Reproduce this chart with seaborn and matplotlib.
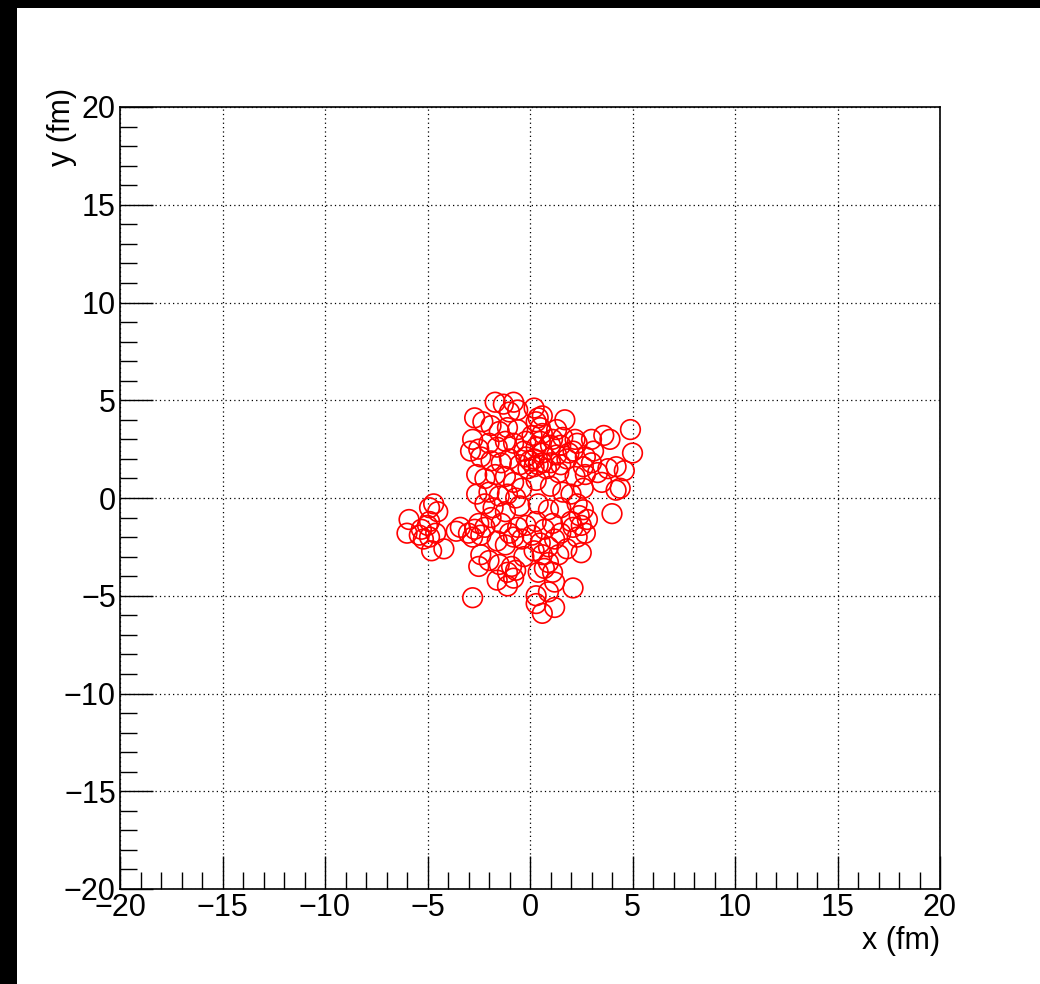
import matplotlib
matplotlib.use("Agg")
import matplotlib.pyplot as plt
import seaborn as sns
import pandas as pd
from matplotlib.patches import Rectangle
from matplotlib.ticker import MultipleLocator

x_fm = [
    -5.9, -6.0, -5.4, -5.2, -5.0, -4.9, -4.8, -4.7, -4.5, -4.9, -4.6, -4.2, -5.3, -4.9,
    -3.6, -3.4, -3.0, -2.8,
    -1.7, -1.3, -0.8, -0.6, -1.0, 0.2, 0.4, 0.6, 0.3, 1.7, -2.7, -2.3, -1.9, -1.5, -1.1, -0.6, 0.1,
    0.5, 1.3, 1.6, 2.2, 3.0, 3.6, 3.9, 4.9, -2.8, -2.5, -2.9, -2.0, -1.6, -1.2, -0.8, -0.3, 0.3, 0.6,
    1.0, 1.3, 1.8, 2.1, 2.7, 2.6, 3.0, 3.3, 3.8, 4.2, 4.6, 5.0, 4.2, 4.4, 3.5, 4.0,
    -2.4, -1.9, -1.4, -1.0, -0.5, -0.2, 0.0, 0.2, 0.4, 0.6, 0.8, 0.2, -0.1, 1.4, 2.2, 2.7,
    -2.6, -2.2, -1.7, -1.2, -0.8, -0.4, 0.3, 1.0, 1.6, 2.0, 2.6,
    -2.6, -2.0, -1.5, -1.1, -0.7, -2.2, -1.8, -1.2, -0.5, 0.4, 0.9, 1.5, 2.3, 2.6, 2.4, 2.8, 2.0,
    -2.5, -2.2, -1.9, -1.4, -1.0, -0.6, -0.2, 0.3, 0.7, 1.1, 1.5, 2.1, 2.5, 2.7,
    -2.7, -2.4, -1.6, -1.2, -0.8, -0.4, 0.1, 0.5, 0.9, 1.2, 1.8, 2.5, 2.3,
    -2.4, -2.0, -2.5, -1.5, -1.1, -0.9, -0.7, -0.3, 0.2, 0.6, 0.9, 1.1, 1.4, -1.1, -1.6,
    0.4, 0.7, 1.2, 2.1, -0.8,
    -2.8, 0.3, 0.3, 0.6, 1.2, 0.9,
    -0.2, 0.5, 0.6, 1.1, 1.5, 2.3, 3.1, 1.9, 1.0, 1.5,
]
y_fm = [
    -1.1, -1.8, -1.9, -2.1, -1.4, -1.2, -2.7, -0.3, -0.7, -0.5, -1.8, -2.6, -1.6, -2.0,
    -1.7, -1.5, -1.8, -2.0,
    4.9, 4.8, 4.9, 4.5, 4.4, 4.6, 4.1, 4.2, 3.9, 4.0, 4.1, 3.9, 3.7, 3.4, 3.6, 3.5, 3.2,
    3.6, 3.5, 3.1, 3.0, 3.0, 3.2, 3.0, 3.5, 3.0, 2.5, 2.4, 2.8, 2.6, 2.9, 2.8, 2.4, 2.6, 2.3,
    2.7, 2.2, 2.0, 2.4, 2.1, 1.6, 1.8, 1.3, 1.5, 1.6, 1.4, 2.3, 0.4, 0.5, 0.8, -0.8,
    2.1, 1.9, 1.8, 2.0, 1.7, 2.1, 1.9, 1.6, 1.7, 1.8, 1.5, 2.0, 1.5, 1.3, 1.1, 1.2,
    1.2, 1.0, 1.2, 1.1, 0.8, 0.5, 0.9, 0.6, 0.3, 0.2, 0.5,
    0.2, 0.3, 0.1, 0.2, 0.0, -0.3, -0.5, -0.7, -0.4, -0.3, -0.6, -0.5, -0.3, -0.6, -0.9, -1.1, -1.2,
    -1.3, -1.5, -1.0, -1.3, -1.8, -1.5, -1.4, -1.2, -1.6, -1.3, -1.8, -1.5, -1.4, -1.8,
    -1.6, -1.9, -2.2, -2.4, -2.0, -2.1, -1.9, -2.3, -2.5, -2.1, -2.6, -2.8, -2.0,
    -2.9, -3.2, -3.5, -3.4, -3.8, -3.5, -3.7, -3.0, -2.7, -2.9, -3.3, -3.8, -2.9, -4.5, -4.2,
    -3.8, -3.6, -4.3, -4.6, -4.1,
    -5.1, -5.0, -5.4, -5.9, -5.6, -4.8,
    2.9, 2.9, 3.3, 3.0, 2.7, 2.8, 2.4, 2.3, 1.8, 1.7,
]
x_ticks = [-20, -15, -10, -5, 0, 5, 10, 15, 20]
y_ticks = [-20, -15, -10, -5, 0, 5, 10, 15, 20]

df = pd.DataFrame({"x": x_fm, "y": y_fm})

sns.set_theme(style="white")
plt.rcParams["font.family"] = ["Liberation Sans", "DejaVu Sans"]

fig = plt.figure(figsize=(10.4, 9.84), dpi=100)
fig.patch.set_facecolor("white")
ax = fig.add_axes([120 / 1040, 1 - 889 / 984, 820 / 1040, 782 / 984])

sns.scatterplot(data=df, x="x", y="y", ax=ax, marker="o", s=200,
                facecolors="none", edgecolors="red", linewidths=1.2, legend=False)

ax.set_xlim(-20, 20)
ax.set_ylim(-20, 20)
ax.set_xticks(x_ticks)
ax.set_yticks(y_ticks)
ax.set_xticklabels([str(v).replace("-", "\u2212") for v in x_ticks])
ax.set_yticklabels([str(v).replace("-", "\u2212") for v in y_ticks])
ax.xaxis.set_minor_locator(MultipleLocator(1))
ax.yaxis.set_minor_locator(MultipleLocator(1))
ax.tick_params(which="major", direction="in", length=24, width=1, color="black",
               labelsize=22, labelcolor="black", bottom=True, left=True, top=False, right=False, pad=3)
ax.tick_params(which="minor", direction="in", length=12, width=1, color="black",
               bottom=True, left=True, top=False, right=False)
ax.grid(True, which="major", color="black", linestyle=(0, (1, 2.5)), linewidth=0.9)
for sp in ax.spines.values():
    sp.set_color("black")
    sp.set_linewidth(1.2)
    sp.set_visible(True)

ax.set_xlabel("x (fm)", fontsize=22, color="black")
ax.set_ylabel("y (fm)", fontsize=22, color="black")
ax.xaxis.set_label_coords(1.0, -0.047)
ax.xaxis.label.set_horizontalalignment("right")
ax.yaxis.set_label_coords(-0.052, 1.025)
ax.yaxis.label.set_horizontalalignment("right")

fig.patches.append(Rectangle((0, 0), 17 / 1040, 1, transform=fig.transFigure,
                             facecolor="black", edgecolor="none", zorder=10))
fig.patches.append(Rectangle((0, 1 - 8 / 984), 1, 8 / 984, transform=fig.transFigure,
                             facecolor="black", edgecolor="none", zorder=10))

fig.savefig("out.png", dpi=100, facecolor="white")
